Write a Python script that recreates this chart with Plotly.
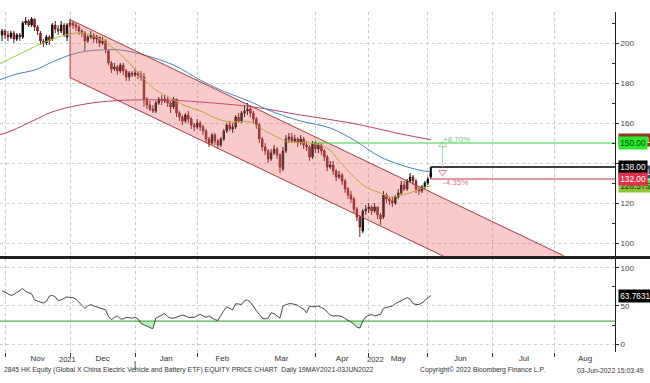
import pandas as pd
import plotly.graph_objects as go

# ---------------- calendar (trading days, HK) ----------------
hk_holidays = ["2021-12-27", "2022-02-01", "2022-02-02", "2022-02-03", "2022-04-05",
               "2022-04-15", "2022-04-18", "2022-05-02", "2022-05-09"]
trade_days = pd.bdate_range("2021-10-28", "2022-09-30")
trade_days = trade_days[~trade_days.isin(pd.to_datetime(hk_holidays))]
month_names = ["Nov", "Dec", "Jan", "Feb", "Mar", "Apr", "May", "Jun", "Jul", "Aug"]
year_names = ["2021", "2022"]

# ---------------- price data (Oct 29 2021 -> Jun 2 2022) ----------------
open_px = [204,
    206,204,203,205,202,204,203,210,211,209,212,208,205,201,200,203,202,209,207,206,209,203,
    209,210,209,208,206,205,201,203,204,202,203,200,201,196,190,187,188,186,189,186,183,185,
    184,185,184,183,172,169,167,166,170,172,171,172,170,168,172,165,163,161,164,162,159,
    158,160,158,156,152,150,154,151,149,152,156,159,157,158,163,161,165,
    166,167,165,162,159,152,148,146,142,145,147,144,137,146,152,153,151,152,150,152,149,148,143,
    150,147,149,146,143,138,139,136,133,134,131,127,124,122,117,113,106,116,
    117,118,116,118,114,113,124,122,121,120,123,125,129,127,131,133,131,127,126,128,
    130,133]
high_px = [207,
    207,206,206,206,205,205,211,213,212,213,212,209,206,202,204,204,210,211,209,211,210,210,
    212,211,210,209,207,206,204,206,205,204,203,203,202,197,191,190,189,190,190,187,186,186,
    187,186,186,185,173,171,169,171,173,174,174,173,171,173,172,166,164,165,166,163,160,
    162,161,159,157,153,155,155,152,153,157,160,161,160,164,165,166,169,
    170,168,166,163,160,153,150,147,147,149,148,145,148,154,155,155,154,153,154,153,151,149,151,
    151,150,150,147,144,141,141,137,136,135,132,128,126,123,118,114,117,119,
    120,119,120,118,115,126,125,123,123,124,127,131,131,132,135,134,132,128,129,131,
    133,137]
low_px = [201,
    202,201,202,200,201,201,202,209,208,208,206,204,199,198,199,199,201,205,204,205,203,201,
    208,207,206,204,203,196,200,202,200,200,198,199,195,189,185,186,184,185,184,181,181,183,
    183,182,181,168,167,166,165,165,169,169,170,168,165,167,163,161,159,160,160,157,156,
    157,156,154,150,148,149,149,147,148,151,155,156,155,157,160,160,163,
    164,163,160,157,150,146,144,140,141,144,142,135,136,145,150,150,150,148,149,147,146,141,142,
    145,145,144,141,136,137,134,131,132,129,125,122,120,115,111,103,105,114,
    115,114,115,112,109,112,120,119,118,119,122,124,126,126,130,129,125,124,125,127,
    129,132]
close_px = [206,
    204,203,205,202,204,203,210,211,209,212,208,206,201,200,203,201,209,207,206,209,204,209,
    210,209,208,206,205,201,203,204,202,203,200,201,197,190,187,188,186,189,186,183,185,184,
    185,184,183,172,169,167,166,170,172,171,172,170,168,172,165,163,161,164,162,159,158,
    160,158,156,152,150,154,151,149,152,156,159,157,158,163,161,165,166,
    167,165,162,159,152,148,146,142,145,147,144,138,146,152,153,151,152,150,152,149,148,143,150,
    147,149,146,143,138,139,136,133,134,131,127,124,122,117,113,108,116,117,
    118,116,118,114,112,124,122,121,120,123,125,129,127,131,133,131,127,126,128,130,
    132,135]
rsi_vals = [70,
    68,65,64,65,68,71,73,69,67,66,58,56,55,54,56,63,64,62,57,58,60,62,
    61,61,59,55,52,47,50,52,50,49,48,47,45,36,32,35,37,33,33,35,34,34,
    35,33,27,25,23,22,20,34,36,37,40,36,34,34,35,37,38,37,35,35,35,
    37,39,37,35,37,34,32,31,38,44,49,47,45,53,52,52,57,
    58,55,49,44,39,34,33,34,41,40,37,34,50,52,53,53,52,51,48,46,41,50,49,
    50,50,48,46,42,38,37,37,37,36,34,31,29,26,22,21,30,36,
    38,39,37,38,39,47,48,48,50,53,55,57,59,61,59,53,52,52,54,57,
    60,63.7631]

# moving averages (sampled trading-day numbers, values)
ma_short_days = [0, 7, 14, 19, 24, 29, 34, 39, 45, 49, 53, 58, 61, 65, 69, 73, 78, 85, 90, 94,
                 98, 105, 111, 115, 119, 124, 129, 132, 136, 139, 143, 146]
ma_short_vals = [189.5, 194.5, 199.5, 202.5, 204.5, 205, 202, 197, 188.5, 182, 176.5, 172.5, 170,
                 167.5, 165.5, 162.5, 160.5, 160.5, 156, 153, 150.5, 150, 147.5, 141, 134.5, 128,
                 125, 123, 124, 125, 127.5, 128.5755]
ma_mid_days = [0, 6, 12, 18, 24, 29, 34, 41, 49, 59, 68, 75, 86, 91, 102, 112, 120, 129, 136, 142, 146]
ma_mid_vals = [181.5, 184.5, 186.5, 190.5, 194, 195.8, 196.5, 196.5, 194, 189, 181.5, 176.5, 170,
               166.5, 161, 157.5, 151.5, 143, 139, 136.5, 135.4817]
ma_long_days = [0, 4, 12, 17, 24, 34, 45, 57, 68, 86, 102, 119, 136, 146]
ma_long_vals = [154.0, 156.0, 161.5, 165, 168, 170.5, 171.5, 171.5, 170.5, 168, 164, 160, 154.5, 151.6412]

# trend channel
channel_days = [24, 191]
channel_upper = [211.7, 93.6]
channel_lower = [182.7, 64.6]

# horizontal levels
level_vals = [150.0, 138.0, 132.0]
level_start_days = [106, 146, 146]
level_colors = ["#3ccf3c", "#000000", "#c8304a"]
rsi_level = 30
pct_day = 150

# ---------------- derived positions ----------------
X_RANGE = [0.31, 208.3]
candle_days = list(range(1, 1 + len(close_px)))
month_start = []
prev = None
for i, d in enumerate(trade_days):
    key = (d.year, d.month)
    if key != prev:
        month_start.append((i, d))
        prev = key
bounds = [i for i, d in month_start if (d.year, d.month) >= (2021, 11)]
bounds = [b for b in bounds if b <= X_RANGE[1]]
label_pos = [(bounds[k] + bounds[k + 1]) / 2 for k in range(len(bounds) - 1)] + [(bounds[-1] + X_RANGE[1]) / 2]
grid_bounds = [b for b, d in month_start if b in bounds and not (d.month == 3)]
jan_idx = [i for i, d in month_start if d.year == 2022 and d.month == 1][0]
year_pos = [(X_RANGE[0] + jan_idx) / 2, (jan_idx + X_RANGE[1]) / 2]

FONT = "Liberation Sans, Arial, sans-serif"

fig = go.Figure()
fig.add_trace(go.Candlestick(
    x=candle_days, open=open_px, high=high_px, low=low_px, close=close_px,
    xaxis="x", yaxis="y", whiskerwidth=0,
    increasing=dict(line=dict(color="#111111", width=1), fillcolor="#111111"),
    decreasing=dict(line=dict(color="#6e1c1c", width=1), fillcolor="#9a3a3a"),
    showlegend=False, hoverinfo="skip"))
fig.add_trace(go.Scatter(x=ma_long_days, y=ma_long_vals, mode="lines", line=dict(color="#b5406a", width=1, shape="spline"),
                         xaxis="x", yaxis="y", showlegend=False, hoverinfo="skip"))
fig.add_trace(go.Scatter(x=ma_mid_days, y=ma_mid_vals, mode="lines", line=dict(color="#4a80b8", width=1, shape="spline"),
                         xaxis="x", yaxis="y", showlegend=False, hoverinfo="skip"))
fig.add_trace(go.Scatter(x=ma_short_days, y=ma_short_vals, mode="lines", line=dict(color="#9ccc3c", width=1, shape="spline"),
                         xaxis="x", yaxis="y", showlegend=False, hoverinfo="skip"))
# channel polygon (drawn on top as translucent tint)
fig.add_trace(go.Scatter(
    x=[channel_days[0], channel_days[1], channel_days[1], channel_days[0], channel_days[0]],
    y=[channel_upper[0], channel_upper[1], channel_lower[1], channel_lower[0], channel_upper[0]],
    mode="lines", fill="toself", fillcolor="rgba(236,95,95,0.33)",
    line=dict(color="#a83c3c", width=1), xaxis="x", yaxis="y", showlegend=False, hoverinfo="skip"))

# levels
x_end = X_RANGE[1]
for v, s, c in zip(level_vals, level_start_days, level_colors):
    fig.add_trace(go.Scatter(x=[s, x_end], y=[v, v], mode="lines", line=dict(color=c, width=1.3 if c == "#000000" else 1),
                             xaxis="x", yaxis="y", showlegend=False, hoverinfo="skip"))
# black marker from last close to level
fig.add_trace(go.Scatter(x=[level_start_days[1], level_start_days[1]], y=[close_px[-1] - 1.5, level_vals[1]], mode="lines",
                         line=dict(color="#000000", width=2), xaxis="x", yaxis="y", showlegend=False, hoverinfo="skip"))
# % change markers
fig.add_trace(go.Scatter(x=[pct_day, pct_day], y=[level_vals[1], level_vals[0] - 1.0], mode="lines+markers",
                         line=dict(color="#a6d8a6", width=1),
                         marker=dict(symbol=["circle", "triangle-up-open"], size=[0, 7], color="#7cc87c", line=dict(width=1)),
                         xaxis="x", yaxis="y", showlegend=False, hoverinfo="skip"))
fig.add_trace(go.Scatter(x=[pct_day], y=[level_vals[1] - 2.6], mode="markers",
                         marker=dict(symbol="triangle-down-open", size=7, color="#e07a8a", line=dict(width=1)),
                         xaxis="x", yaxis="y", showlegend=False, hoverinfo="skip"))
up_pct = (level_vals[0] / level_vals[1] - 1) * 100
dn_pct = (level_vals[2] / level_vals[1] - 1) * 100

# RSI
fig.add_trace(go.Scatter(x=candle_days, y=[rsi_level] * len(candle_days), mode="lines", line=dict(width=0),
                         xaxis="x2", yaxis="y2", showlegend=False, hoverinfo="skip"))
fig.add_trace(go.Scatter(x=candle_days, y=[min(r, rsi_level) for r in rsi_vals], mode="lines", line=dict(width=0),
                         fill="tonexty", fillcolor="rgba(120,225,120,0.45)",
                         xaxis="x2", yaxis="y2", showlegend=False, hoverinfo="skip"))
fig.add_trace(go.Scatter(x=[X_RANGE[0], X_RANGE[1]], y=[rsi_level, rsi_level], mode="lines",
                         line=dict(color="#4cb04c", width=1.3), xaxis="x2", yaxis="y2", showlegend=False, hoverinfo="skip"))
fig.add_trace(go.Scatter(x=candle_days, y=rsi_vals, mode="lines", line=dict(color="#333333", width=0.9),
                         xaxis="x2", yaxis="y2", showlegend=False, hoverinfo="skip"))

# ---------------- layout ----------------
T, B, H_ = 12, 31, 383
plot_h = H_ - T - B
bottom_px = H_ - B
def py(px):
    return (bottom_px - px) / plot_h

axis_font = dict(family=FONT, size=8, color="#444444")
xcommon = dict(range=X_RANGE, autorange=False, showline=False, zeroline=False, tickmode="array",
               tickvals=label_pos, ticks="", showgrid=False,
               minor=dict(tickmode="array", tickvals=grid_bounds, showgrid=True, gridcolor="#c8c8c8",
                          griddash="dot", gridwidth=1, ticks="outside", ticklen=4, tickcolor="#333"))
fig.update_layout(
    width=650, height=383, margin=dict(l=0, r=35, t=T, b=B),
    paper_bgcolor="white", plot_bgcolor="white", showlegend=False, hovermode=False,
    xaxis=dict(**xcommon, domain=[0, 1], anchor="y", showticklabels=False, rangeslider=dict(visible=False)),
    xaxis2=dict(**xcommon, domain=[0, 1], anchor="y2", ticktext=month_names, showticklabels=True,
                tickfont=dict(family=FONT, size=8, color="#333333")),
    yaxis=dict(domain=[py(256), 1], range=[93.5, 215.5], side="right", anchor="x",
               tickvals=[100, 120, 140, 160, 180, 200], ticks="outside", ticklen=3, tickcolor="#333",
               showline=True, linecolor="#222222", linewidth=1, zeroline=False,
               showgrid=True, gridcolor="#cfcfcf", griddash="dot", tickfont=axis_font,
               minor=dict(tickmode="array", tickvals=[110, 130, 150, 170, 190, 210], ticks="inside",
                          ticklen=3, tickcolor="#333", showgrid=False)),
    yaxis2=dict(domain=[0, py(259)], range=[-10.5, 111.8], side="right", anchor="x2",
                tickvals=[0, 50, 100], ticks="outside", ticklen=3, tickcolor="#333",
                showline=True, linecolor="#222222", linewidth=1, zeroline=False,
                showgrid=True, gridcolor="#cfcfcf", griddash="dot", tickfont=axis_font,
                minor=dict(tickmode="array", tickvals=[25, 75], ticks="inside", ticklen=3,
                           tickcolor="#333", showgrid=False)),
)

# separator bar
fig.add_shape(type="line", xref="paper", yref="paper", x0=0, x1=650 / 615, y0=py(257.5), y1=py(257.5),
              line=dict(color="#222222", width=3))
# year separator
fig.add_shape(type="line", xref="x2", yref="paper", x0=jan_idx, x1=jan_idx, y0=py(361), y1=py(370),
              line=dict(color="#555555", width=1))

ann = []
# year labels
for p, t in zip(year_pos, year_names):
    ann.append(dict(x=p, xref="x2", y=py(366), yref="paper", text=t, showarrow=False,
                    font=dict(family=FONT, size=7.5, color="#333333")))
# pct labels
ann.append(dict(x=pct_day - 0.5, xref="x", y=level_vals[0] + 2, yref="y", text="%+.2f%%" % up_pct, showarrow=False,
                xanchor="left", font=dict(family=FONT, size=8, color="#7cc87c")))
ann.append(dict(x=pct_day - 0.5, xref="x", y=level_vals[2] - 1.5, yref="y", text="%.2f%%" % dn_pct, showarrow=False,
                xanchor="left", font=dict(family=FONT, size=8, color="#e07080")))

# right-side value tags (drawn in order: lower ones first)
tags = [
    (ma_long_vals[-1], "%.4f" % ma_long_vals[-1], "#8a3a22", "#ffffff", "y"),
    (ma_mid_vals[-1], "%.4f" % ma_mid_vals[-1], "#3c4a80", "#ffffff", "y"),
    (ma_short_vals[-1], "%.4f" % ma_short_vals[-1], "#8cc43c", "#203000", "y"),
    (level_vals[0], "%.2f" % level_vals[0], "#2ee82e", "#004400", "y"),
    (level_vals[1], "%.2f" % level_vals[1], "#000000", "#ffffff", "y"),
    (level_vals[2], "%.2f" % level_vals[2], "#e0304c", "#ffffff", "y"),
    (rsi_vals[-1], "%.4f" % rsi_vals[-1], "#000000", "#ffffff", "y2"),
]
for v, t, bg, fg, yr in tags:
    ann.append(dict(x=1, xref="paper", y=v, yref=yr, text=t, showarrow=False, xanchor="left", yanchor="middle",
                    xshift=3, bgcolor=bg, borderpad=1.2, font=dict(family=FONT, size=8.3, color=fg)))

# footer
foot_font = dict(family=FONT, size=6.8, color="#333333")
ann.append(dict(x=2 / 615, xref="paper", y=py(376), yref="paper", xanchor="left", showarrow=False, font=foot_font,
                text="2845 HK Equity (Global X China Electric Vehicle and Battery ETF) EQUITY PRICE CHART  Daily 19MAY2021-03JUN2022"))
ann.append(dict(x=418 / 615, xref="paper", y=py(376), yref="paper", xanchor="left", showarrow=False, font=foot_font,
                text="Copyright© 2022 Bloomberg Finance L.P."))
ann.append(dict(x=646 / 615, xref="paper", y=py(376), yref="paper", xanchor="right", showarrow=False, font=foot_font,
                text="03-Jun-2022 15:03:49"))
fig.update_layout(annotations=ann)

fig.write_html("out.html", config={"displayModeBar": False, "staticPlot": True},
               post_script="document.body.style.margin='0px';document.body.style.overflow='hidden';")
